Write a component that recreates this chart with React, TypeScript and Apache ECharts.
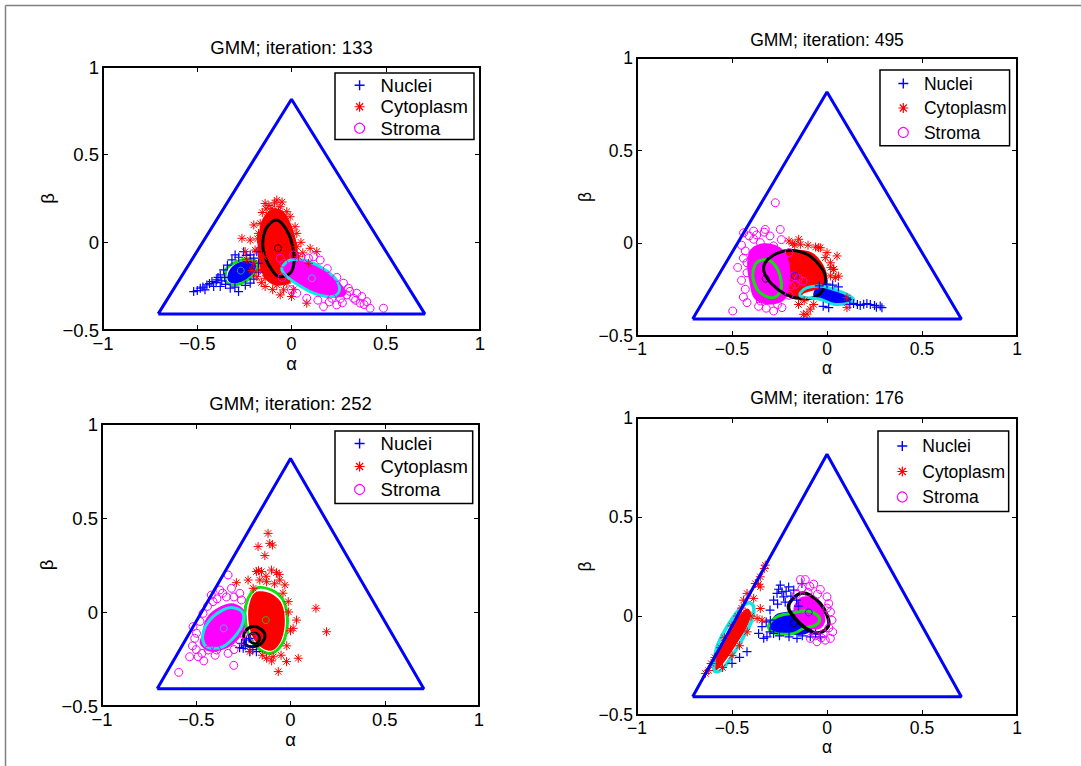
import React, { useEffect, useRef } from "react";
import * as echarts from "echarts";

type Pt = [number, number];

// ---------- shared data ----------
const TITLES = [
  "GMM; iteration: 133",
  "GMM; iteration: 495",
  "GMM; iteration: 252",
  "GMM; iteration: 176",
];
const CLASS_NAMES = ["Nuclei", "Cytoplasm", "Stroma"];
const X_MIN = -1, X_MAX = 1, X_STEP = 0.5;
const Y_MIN = -0.5, Y_MAX = 1, Y_STEP = 0.5;
const TRIANGLE: Pt[] = [[-0.7071, -0.4082], [0.7071, -0.4082], [0, 0.8165], [-0.7071, -0.4082]];

// ---------- panel 1 (iteration 133) ----------
const P1_NUCLEI: Pt[] = [[-0.519,-0.281],[-0.484,-0.262],[-0.449,-0.243],[-0.422,-0.224],[-0.396,-0.214],[-0.459,-0.271],[-0.378,-0.186],[-0.36,-0.157],[-0.316,-0.1],[-0.299,-0.072],[-0.254,-0.053],[-0.219,-0.072],[-0.184,-0.053],[-0.281,-0.281],[-0.325,-0.262],[-0.219,-0.233],[-0.413,-0.252],[-0.378,-0.252],[-0.5,-0.275],[-0.47,-0.255],[-0.435,-0.235],[-0.4,-0.23],[-0.37,-0.22],[-0.355,-0.2],[-0.34,-0.13],[-0.28,-0.085],[-0.24,-0.075],[-0.2,-0.09],[-0.175,-0.12],[-0.175,-0.17],[-0.2,-0.21],[-0.245,-0.245],[-0.3,-0.255],[-0.35,-0.24],[-0.39,-0.2]];
const P1_NUCLEI_CORE: Pt[] = [[-0.34,-0.2],[-0.33,-0.16],[-0.29,-0.12],[-0.24,-0.105],[-0.195,-0.115],[-0.19,-0.15],[-0.215,-0.19],[-0.26,-0.225],[-0.31,-0.235],[-0.335,-0.22]];
const P1_CYTOPLASM: Pt[] = [[-0.14,0.222],[-0.078,0.241],[-0.06,0.203],[-0.113,0.165],[-0.025,0.175],[-0.007,0.146],[-0.166,0.108],[-0.2,0.099],[-0.263,0.023],[-0.219,0.013],[0.019,0.089],[0.028,0.051],[-0.175,0.051],[0.099,-0.034],[0.134,-0.053],[0.09,-0.12],[0.081,-0.347],[-0.14,-0.252],[-0.06,-0.3],[0.0,-0.309],[-0.042,-0.271],[-0.184,-0.196],[-0.166,-0.157],[-0.237,-0.1],[-0.246,-0.053],[-0.193,-0.044],[-0.131,0.127],[-0.104,0.194],[-0.042,0.146],[0.028,-0.025],[0.037,-0.082],[-0.148,-0.082],[-0.14,-0.205],[-0.025,-0.233],[-0.078,-0.243],[-0.12,0.21],[-0.09,0.225],[-0.155,0.17],[-0.18,0.02],[-0.2,-0.12],[-0.21,-0.16],[0.05,0.0],[0.06,-0.06],[0.01,-0.27],[-0.1,-0.27],[-0.16,-0.23],[-0.05,0.23],[-0.135,0.19],[-0.07,0.18]];
const P1_CYTOPLASM_CORE: Pt[] = [[-0.15,0.14],[-0.1,0.19],[-0.05,0.18],[-0.01,0.12],[0.02,0.03],[0.035,-0.08],[0.02,-0.2],[-0.03,-0.24],[-0.1,-0.24],[-0.15,-0.19],[-0.175,-0.1],[-0.18,-0.01],[-0.17,0.07]];
const P1_STROMA: Pt[] = [[-0.06,-0.091],[0.011,-0.072],[0.117,-0.082],[0.152,-0.101],[0.028,-0.29],[0.17,-0.366],[0.24,-0.357],[0.293,-0.3],[0.329,-0.319],[0.364,-0.347],[0.399,-0.338],[0.417,-0.376],[0.488,-0.376],[0.302,-0.262],[0.276,-0.233],[0.346,-0.29],[0.373,-0.309],[0.214,-0.319],[0.081,-0.319],[0.05,-0.085],[0.09,-0.09],[0.19,-0.15],[0.24,-0.2],[0.31,-0.28],[0.26,-0.32],[0.2,-0.34],[0.14,-0.33],[0.34,-0.33],[0.0,-0.27],[-0.05,-0.2],[-0.04,-0.12],[0.385,-0.355],[0.27,-0.345]];
const P1_STROMA_CORE: Pt[] = [[-0.035,-0.13],[0.0,-0.105],[0.07,-0.105],[0.15,-0.14],[0.22,-0.19],[0.265,-0.24],[0.29,-0.29],[0.27,-0.31],[0.2,-0.315],[0.12,-0.295],[0.04,-0.25],[-0.02,-0.2],[-0.045,-0.16]];
const P1_GREEN_CONTOUR: Pt[] = [[-0.352,-0.195],[-0.343,-0.148],[-0.29,-0.11],[-0.237,-0.095],[-0.187,-0.11],[-0.18,-0.148],[-0.21,-0.195],[-0.263,-0.233],[-0.316,-0.243],[-0.348,-0.224]];
const P1_BLACK_CONTOUR: Pt[] = [[-0.081,0.127],[-0.051,0.108],[-0.016,0.051],[0.007,-0.025],[0.014,-0.11],[-0.007,-0.176],[-0.069,-0.195],[-0.104,-0.157],[-0.134,-0.1],[-0.152,-0.025],[-0.145,0.051],[-0.122,0.099]];
const P1_CYAN_CONTOUR: Pt[] = [[-0.042,-0.129],[-0.007,-0.101],[0.064,-0.101],[0.152,-0.139],[0.223,-0.195],[0.254,-0.252],[0.24,-0.3],[0.187,-0.309],[0.117,-0.29],[0.037,-0.243],[-0.025,-0.195],[-0.051,-0.157]];
const P1_MEANS: Pt[] = [[-0.269,-0.161],[-0.072,-0.034],[0.108,-0.205]];

// ---------- panel 2 (iteration 495) ----------
const P2_NUCLEI: Pt[] = [[0.14,-0.324],[0.16,-0.33],[0.193,-0.329],[0.21,-0.325],[0.228,-0.33],[0.25,-0.335],[0.28,-0.338],[0.289,-0.347],[0.009,-0.347],[0.0,-0.22],[0.03,-0.225],[0.06,-0.235],[-0.02,-0.34],[0.12,-0.33],[0.175,-0.335],[0.26,-0.345],[-0.04,-0.23]];
const P2_NUCLEI_CORE: Pt[] = [[-0.06,-0.245],[0.0,-0.235],[0.06,-0.25],[0.12,-0.28],[0.14,-0.305],[0.11,-0.325],[0.04,-0.33],[-0.03,-0.31],[-0.07,-0.29]];
const P2_CYTOPLASM: Pt[] = [[-0.2,0.013],[-0.149,0.022],[-0.14,-0.005],[-0.044,-0.023],[-0.009,-0.077],[0.035,-0.14],[0.044,-0.185],[0.053,-0.068],[0.018,-0.176],[0.105,-0.293],[-0.105,-0.382],[-0.088,-0.355],[-0.035,-0.024],[0.018,-0.105],[0.061,-0.177],[0.035,-0.141],[-0.123,-0.383],[0.105,-0.347],[-0.18,0.0],[-0.1,-0.01],[-0.06,-0.02],[0.0,-0.05],[0.02,-0.13],[-0.15,-0.33],[-0.12,-0.31],[-0.07,-0.33],[-0.17,-0.01]];
const P2_CYTOPLASM_CORE: Pt[] = [[-0.21,-0.04],[-0.15,-0.035],[-0.08,-0.05],[-0.03,-0.1],[0.0,-0.17],[-0.01,-0.23],[-0.06,-0.25],[-0.12,-0.27],[-0.15,-0.3],[-0.2,-0.29],[-0.22,-0.2],[-0.22,-0.1]];
const P2_STROMA: Pt[] = [[-0.272,0.219],[-0.496,-0.365],[-0.439,0.057],[-0.386,0.066],[-0.325,0.075],[-0.246,0.075],[-0.43,-0.041],[-0.351,0.004],[-0.281,-0.014],[-0.43,-0.248],[-0.421,-0.32],[-0.351,-0.311],[-0.281,-0.365],[-0.237,-0.347],[-0.175,-0.177],[-0.126,-0.204],[-0.167,-0.221],[-0.421,-0.159],[-0.421,-0.105],[-0.386,0.022],[-0.316,-0.05],[-0.41,0.04],[-0.37,0.045],[-0.3,0.04],[-0.45,-0.01],[-0.44,-0.08],[-0.45,-0.2],[-0.44,-0.29],[-0.32,-0.35],[-0.26,-0.33],[-0.2,-0.28],[-0.19,-0.23],[-0.2,-0.05],[-0.24,0.02],[-0.33,0.06],[-0.47,-0.13],[-0.36,-0.34],[-0.15,-0.19]];
const P2_STROMA_CORE: Pt[] = [[-0.4,-0.03],[-0.33,0.0],[-0.25,-0.02],[-0.205,-0.08],[-0.195,-0.2],[-0.22,-0.3],[-0.3,-0.33],[-0.38,-0.3],[-0.41,-0.2],[-0.42,-0.1]];
const P2_GREEN_CONTOUR: Pt[] = [[-0.377,-0.113],[-0.342,-0.09],[-0.298,-0.095],[-0.26,-0.14],[-0.24,-0.212],[-0.249,-0.266],[-0.281,-0.293],[-0.325,-0.284],[-0.368,-0.248],[-0.391,-0.176]];
const P2_BLACK_CONTOUR: Pt[] = [[-0.325,-0.104],[-0.263,-0.054],[-0.184,-0.038],[-0.105,-0.059],[-0.044,-0.113],[-0.009,-0.176],[-0.018,-0.248],[-0.07,-0.293],[-0.14,-0.298],[-0.219,-0.275],[-0.289,-0.221],[-0.33,-0.158]];
const P2_CYAN_CONTOUR: Pt[] = [[-0.14,-0.266],[-0.105,-0.239],[-0.035,-0.23],[0.035,-0.248],[0.105,-0.275],[0.14,-0.302],[0.114,-0.323],[0.035,-0.329],[-0.035,-0.302],[-0.105,-0.293],[-0.14,-0.284]];
const P2_MEANS: Pt[] = [[-0.323,-0.191],[-0.17,-0.176],[-0.009,-0.28]];

// ---------- panel 3 (iteration 252) ----------
const P3_NUCLEI: Pt[] = [[-0.26,-0.167],[-0.251,-0.193],[-0.216,-0.211],[-0.181,-0.211],[-0.234,-0.149],[-0.24,-0.18],[-0.2,-0.2],[-0.27,-0.19],[-0.22,-0.14]];
const P3_CYTOPLASM: Pt[] = [[-0.119,0.418],[-0.11,0.365],[-0.172,0.348],[-0.096,0.356],[-0.136,0.3],[-0.181,0.215],[-0.154,0.215],[-0.101,0.223],[-0.074,0.209],[-0.057,0.17],[-0.03,0.144],[-0.287,0.156],[-0.198,0.126],[-0.127,0.161],[-0.012,0.055],[0.032,-0.043],[0.014,-0.087],[0.135,0.02],[0.191,-0.105],[0.041,-0.246],[-0.021,-0.264],[-0.065,-0.317],[-0.127,-0.246],[-0.092,-0.238],[-0.216,-0.211],[-0.225,0.17],[-0.163,0.17],[-0.17,0.22],[-0.13,0.19],[-0.085,0.15],[-0.04,0.1],[-0.01,0.0],[0.0,-0.1],[-0.02,-0.18],[-0.05,-0.23],[-0.1,-0.26],[-0.15,-0.23],[-0.06,0.2]];
const P3_CYTOPLASM_CORE: Pt[] = [[-0.15,0.11],[-0.09,0.09],[-0.045,0.04],[-0.03,-0.05],[-0.045,-0.14],[-0.08,-0.195],[-0.12,-0.205],[-0.17,-0.175],[-0.21,-0.11],[-0.225,-0.01],[-0.21,0.07],[-0.185,0.105]];
const P3_STROMA: Pt[] = [[-0.331,0.197],[-0.42,0.09],[-0.375,0.117],[-0.313,0.126],[-0.269,0.099],[-0.26,0.064],[-0.517,-0.078],[-0.508,-0.14],[-0.535,-0.238],[-0.49,-0.238],[-0.593,-0.321],[-0.301,-0.284],[-0.331,-0.22],[-0.437,-0.202],[-0.392,-0.202],[-0.411,0.055],[-0.464,-0.007],[-0.499,-0.113],[-0.44,0.03],[-0.39,0.07],[-0.34,0.08],[-0.3,0.08],[-0.48,-0.05],[-0.52,-0.18],[-0.47,-0.22],[-0.3,-0.2],[-0.27,-0.15],[-0.25,-0.12],[-0.36,0.1],[-0.46,-0.26],[-0.5,-0.2],[-0.4,-0.23]];
const P3_STROMA_CORE: Pt[] = [[-0.47,-0.12],[-0.445,-0.03],[-0.37,0.03],[-0.3,0.045],[-0.24,0.0],[-0.24,-0.08],[-0.29,-0.16],[-0.355,-0.2],[-0.43,-0.21],[-0.48,-0.17]];
const P3_GREEN_CONTOUR: Pt[] = [[-0.154,0.131],[-0.083,0.108],[-0.035,0.055],[-0.016,-0.043],[-0.03,-0.14],[-0.074,-0.206],[-0.119,-0.22],[-0.181,-0.184],[-0.225,-0.113],[-0.242,-0.007],[-0.225,0.073],[-0.189,0.121]];
const P3_BLACK_CONTOUR: Pt[] = [[-0.242,-0.105],[-0.207,-0.078],[-0.163,-0.087],[-0.136,-0.122],[-0.154,-0.167],[-0.198,-0.184],[-0.234,-0.176],[-0.248,-0.14]];
const P3_BLACK_INNER: Pt[] = [[-0.216,-0.122],[-0.181,-0.113],[-0.163,-0.14],[-0.181,-0.167],[-0.212,-0.158]];
const P3_CYAN_CONTOUR: Pt[] = [[-0.464,-0.113],[-0.428,-0.043],[-0.358,0.011],[-0.304,0.023],[-0.251,-0.007],[-0.26,-0.078],[-0.304,-0.14],[-0.358,-0.184],[-0.411,-0.193],[-0.455,-0.176]];
const P3_MEANS: Pt[] = [[-0.131,-0.043],[-0.354,-0.087],[-0.198,-0.131]];

// ---------- panel 4 (iteration 176) ----------
const P4_NUCLEI: Pt[] = [[-0.281,0.08],[-0.246,0.156],[-0.237,0.122],[-0.202,0.147],[-0.175,0.131],[-0.263,0.114],[-0.228,0.097],[-0.342,-0.054],[-0.36,-0.088],[-0.333,-0.113],[-0.316,-0.105],[-0.281,-0.088],[-0.421,-0.18],[-0.46,-0.209],[-0.5,-0.239],[-0.132,0.164],[-0.298,-0.021],[-0.158,-0.113],[-0.088,-0.105],[-0.035,-0.105],[-0.3,0.03],[-0.26,0.06],[-0.22,0.07],[-0.19,0.1],[-0.16,0.08],[-0.32,-0.03],[-0.3,-0.08],[-0.25,-0.1],[-0.2,-0.105],[-0.13,-0.1],[-0.06,-0.09],[-0.15,0.05],[-0.215,0.125],[-0.255,0.135]];
const P4_NUCLEI_CORE: Pt[] = [[-0.307,-0.054],[-0.272,0.005],[-0.211,0.021],[-0.14,0.03],[-0.088,0.013],[-0.07,-0.054],[-0.105,-0.088],[-0.175,-0.096],[-0.246,-0.088],[-0.298,-0.08]];
const P4_CYTOPLASM: Pt[] = [[-0.64,-0.29],[-0.623,-0.275],[-0.325,0.257],[-0.351,0.198],[-0.377,0.164],[-0.351,0.147],[-0.386,0.089],[-0.351,0.038],[-0.368,-0.012],[-0.342,-0.021],[-0.439,0.08],[-0.421,0.114],[-0.61,-0.24],[-0.59,-0.21],[-0.56,-0.16],[-0.54,-0.11],[-0.5,-0.05],[-0.47,0.0],[-0.45,0.04],[-0.4,0.0],[-0.42,-0.08],[-0.46,-0.15],[-0.5,-0.2],[-0.55,-0.26],[-0.36,0.16],[-0.33,0.24]];
const P4_CYTOPLASM_CORE: Pt[] = [[-0.605,-0.264],[-0.579,-0.189],[-0.526,-0.088],[-0.474,-0.012],[-0.421,0.038],[-0.4,0.013],[-0.421,-0.054],[-0.474,-0.138],[-0.526,-0.214],[-0.579,-0.273]];
const P4_STROMA: Pt[] = [[-0.14,0.184],[-0.114,0.184],[-0.07,0.161],[-0.035,0.134],[0,0.097],[0.009,0.063],[0.018,0.021],[0.026,-0.021],[0.018,-0.113],[-0.009,-0.122],[-0.053,-0.13],[-0.088,-0.113],[-0.132,0.139],[-0.09,0.15],[-0.05,0.11],[0.0,0.04],[0.01,-0.06],[-0.02,-0.09],[-0.06,-0.1],[-0.1,0.12],[-0.16,0.11],[-0.03,-0.11],[0.03,-0.08]];
const P4_STROMA_CORE: Pt[] = [[-0.175,0.047],[-0.132,0.097],[-0.07,0.089],[-0.026,0.038],[-0.009,-0.021],[-0.035,-0.063],[-0.088,-0.063],[-0.14,-0.029],[-0.167,0.005]];
const P4_GREEN_CONTOUR: Pt[] = [[-0.307,-0.046],[-0.263,-0.004],[-0.193,0.013],[-0.105,0.026],[-0.053,0.005],[-0.039,-0.021],[-0.061,-0.046],[-0.123,-0.063],[-0.175,-0.088],[-0.246,-0.091],[-0.298,-0.075]];
const P4_BLACK_CONTOUR: Pt[] = [[-0.193,0.072],[-0.14,0.114],[-0.088,0.105],[-0.035,0.063],[0,0.005],[0.009,-0.046],[-0.026,-0.08],[-0.07,-0.083],[-0.123,-0.054],[-0.175,-0.004],[-0.202,0.038]];
const P4_CYAN_CONTOUR: Pt[] = [[-0.596,-0.256],[-0.579,-0.155],[-0.526,-0.054],[-0.465,0.03],[-0.412,0.067],[-0.386,0.047],[-0.395,-0.021],[-0.439,-0.105],[-0.491,-0.189],[-0.553,-0.27],[-0.588,-0.281]];
const P4_MEANS: Pt[] = [[-0.175,-0.037],[-0.096,0.018]];

// ---------- styling ----------
const FONT = "'Liberation Sans', Arial, Helvetica, sans-serif";
const BLUE = "#0000ff", RED = "#ff0000", MAGENTA = "#ff00ff", GREEN = "#10e010", CYAN = "#10e6e6", BLACK = "#000000";
const PLUS = "path://M0,5L10,5M5,0L5,10";
const PLUS_FILLED = "path://M4.3,0H5.7V4.3H10V5.7H5.7V10H4.3V5.7H0V4.3H4.3Z";
const STAR = "path://M0,5L10,5M5,0L5,10M1.5,1.5L8.5,8.5M1.5,8.5L8.5,1.5";

const PANELS = [
  {
    title: TITLES[0], rect: { left: 103, top: 67, width: 377, height: 263 }, titleY: 47, fs: 18.5,
    legend: { left: 335, top: 73, gap: 2.5, pad: [2.75, 6, 1.75, 19], textGap: 11 },
    alphaGap: 21, betaGap: 46,
    nuclei: P1_NUCLEI, nucleiCore: P1_NUCLEI_CORE, cyto: P1_CYTOPLASM, cytoCore: P1_CYTOPLASM_CORE,
    stroma: P1_STROMA, stromaCore: P1_STROMA_CORE,
    contours: [[P1_GREEN_CONTOUR, GREEN, 3], [P1_BLACK_CONTOUR, BLACK, 3], [P1_CYAN_CONTOUR, CYAN, 3]],
    means: P1_MEANS, meanColors: [GREEN, BLACK, CYAN],
  },
  {
    title: TITLES[1], rect: { left: 637, top: 58, width: 380, height: 278 }, titleY: 40, fs: 17.5,
    legend: { left: 880, top: 70, gap: 6.5, pad: [4.5, 3, 4.25, 17.7], textGap: 10.6 },
    alphaGap: 19, betaGap: 43,
    nuclei: P2_NUCLEI, nucleiCore: P2_NUCLEI_CORE, cyto: P2_CYTOPLASM, cytoCore: P2_CYTOPLASM_CORE,
    stroma: P2_STROMA, stromaCore: P2_STROMA_CORE,
    contours: [[P2_GREEN_CONTOUR, GREEN, 3], [P2_BLACK_CONTOUR, BLACK, 3], [P2_CYAN_CONTOUR, CYAN, 3]],
    means: P2_MEANS, meanColors: [BLACK, BLUE, BLUE],
  },
  {
    title: TITLES[2], rect: { left: 102, top: 424, width: 377, height: 282 }, titleY: 403, fs: 18.5,
    legend: { left: 335, top: 431, gap: 4, pad: [3, 4.7, 4.5, 19], textGap: 11 },
    alphaGap: 23, betaGap: 46,
    nuclei: P3_NUCLEI, nucleiCore: null, cyto: P3_CYTOPLASM, cytoCore: P3_CYTOPLASM_CORE,
    stroma: P3_STROMA, stromaCore: P3_STROMA_CORE,
    contours: [[P3_GREEN_CONTOUR, GREEN, 3], [P3_BLACK_CONTOUR, BLACK, 3], [P3_BLACK_INNER, BLACK, 2.5], [P3_CYAN_CONTOUR, CYAN, 3]],
    means: P3_MEANS, meanColors: [GREEN, CYAN, MAGENTA],
  },
  {
    title: TITLES[3], rect: { left: 637, top: 418, width: 380, height: 297 }, titleY: 398, fs: 17.5,
    legend: { left: 878, top: 431, gap: 7.5, pad: [6, 3.7, 5.5, 18.7], textGap: 10 },
    alphaGap: 21, betaGap: 43,
    nuclei: P4_NUCLEI, nucleiCore: P4_NUCLEI_CORE, cyto: P4_CYTOPLASM, cytoCore: P4_CYTOPLASM_CORE,
    stroma: P4_STROMA, stromaCore: P4_STROMA_CORE,
    contours: [[P4_CYAN_CONTOUR, CYAN, 3.5], [P4_GREEN_CONTOUR, GREEN, 3], [P4_BLACK_CONTOUR, BLACK, 3.5]],
    means: P4_MEANS, meanColors: [BLACK, BLUE],
  },
];

const minus = (v: number) => String(v).replace("-", "\u2212");

function polygonSeries(pts: Pt[], gi: number, fill: string, stroke: string | null, lw: number) {
  return {
    type: "custom",
    xAxisIndex: gi * 2,
    yAxisIndex: gi * 2,
    silent: true,
    clip: false,
    encode: { x: 0, y: 1 },
    data: [[pts[0][0], pts[0][1]]],
    renderItem: (_params: any, api: any) => {
      const points = pts.map((p) => api.coord(p));
      return {
        type: "polygon",
        shape: { points, smooth: 0.35 },
        style: { fill, stroke: stroke || "none", lineWidth: lw },
      };
    },
  };
}

function scatterSeries(name: string, pts: Pt[], gi: number, kind: "plus" | "star" | "circle") {
  const color = kind === "plus" ? BLUE : kind === "star" ? RED : MAGENTA;
  return {
    type: "scatter",
    name,
    xAxisIndex: gi * 2,
    yAxisIndex: gi * 2,
    silent: true,
    symbol: kind === "plus" ? PLUS : kind === "star" ? STAR : "circle",
    symbolSize: kind === "circle" ? 8 : 9,
    itemStyle: {
      color: kind === "circle" ? "rgba(0,0,0,0)" : color,
      borderColor: color,
      borderWidth: kind === "plus" ? 1.2 : 1,
      opacity: 1,
    },
    data: pts,
  };
}

function buildOption() {
  const grid: any[] = [];
  const xAxis: any[] = [];
  const yAxis: any[] = [];
  const series: any[] = [];
  const legend: any[] = [];
  const graphic: any[] = [
    { type: "line", shape: { x1: 5.5, y1: 5.5, x2: 1081, y2: 5.5 }, style: { stroke: "#808080", lineWidth: 1.5 }, silent: true },
    { type: "line", shape: { x1: 5.5, y1: 5.5, x2: 5.5, y2: 766 }, style: { stroke: "#808080", lineWidth: 1.5 }, silent: true },
  ];

  PANELS.forEach((p, gi) => {
    grid.push({ ...p.rect, containLabel: false });
    const axisLine = { show: true, onZero: false, lineStyle: { color: BLACK, width: 2 } };
    const tick = { show: true, inside: true, length: 5, lineStyle: { color: BLACK, width: 1 } };
    const label = { color: BLACK, fontSize: p.fs, fontFamily: FONT, margin: 4, formatter: minus };
    xAxis.push({
      type: "value", gridIndex: gi, min: X_MIN, max: X_MAX, interval: X_STEP, position: "bottom",
      axisLine, axisTick: tick, axisLabel: label, splitLine: { show: false },
      name: "α", nameLocation: "middle", nameGap: p.alphaGap,
      nameTextStyle: { color: BLACK, fontSize: p.fs, fontFamily: FONT },
    });
    xAxis.push({
      type: "value", gridIndex: gi, min: X_MIN, max: X_MAX, interval: X_STEP, position: "top",
      axisLine, axisTick: tick, axisLabel: { show: false }, splitLine: { show: false },
    });
    yAxis.push({
      type: "value", gridIndex: gi, min: Y_MIN, max: Y_MAX, interval: Y_STEP, position: "left",
      axisLine, axisTick: tick, axisLabel: label, splitLine: { show: false },
      name: "β", nameLocation: "middle", nameGap: p.betaGap, nameRotate: 90,
      nameTextStyle: { color: BLACK, fontSize: p.fs, fontFamily: FONT },
    });
    yAxis.push({
      type: "value", gridIndex: gi, min: Y_MIN, max: Y_MAX, interval: Y_STEP, position: "right",
      axisLine, axisTick: tick, axisLabel: { show: false }, splitLine: { show: false },
    });

    // triangle
    series.push({
      type: "line", xAxisIndex: gi * 2, yAxisIndex: gi * 2, data: TRIANGLE, symbol: "none", silent: true,
      lineStyle: { color: BLUE, width: 3 },
    });
    // nuclei
    if (p.nucleiCore) series.push(polygonSeries(p.nucleiCore, gi, BLUE, null, 0));
    series.push(scatterSeries(CLASS_NAMES[0], p.nuclei, gi, "plus"));
    // cytoplasm
    series.push(polygonSeries(p.cytoCore, gi, RED, null, 0));
    series.push(scatterSeries(CLASS_NAMES[1], p.cyto, gi, "star"));
    // stroma
    series.push(polygonSeries(p.stromaCore, gi, MAGENTA, null, 0));
    series.push(scatterSeries(CLASS_NAMES[2], p.stroma, gi, "circle"));
    // contours
    p.contours.forEach((c: any) => series.push(polygonSeries(c[0], gi, "none", c[1], c[2])));
    // component means
    series.push({
      type: "scatter", name: "means", xAxisIndex: gi * 2, yAxisIndex: gi * 2, silent: true,
      symbol: "circle", symbolSize: 7,
      data: p.means.map((m, i) => ({ value: m, itemStyle: { color: "rgba(0,0,0,0)", borderColor: p.meanColors[i], borderWidth: 1 } })),
    });

    legend.push({
      orient: "vertical", left: p.legend.left, top: p.legend.top,
      itemWidth: 10, itemHeight: 10, itemGap: p.legend.gap,
      padding: p.legend.pad, borderColor: BLACK, borderWidth: 1.5, backgroundColor: "#ffffff",
      selectedMode: false, z: 20,
      textStyle: { color: BLACK, fontSize: p.fs, fontFamily: FONT, lineHeight: p.fs, padding: [0, 0, 0, p.legend.textGap] },
      data: [
        { name: CLASS_NAMES[0], icon: PLUS_FILLED, itemStyle: { color: BLUE, borderColor: BLUE, borderWidth: 0 } },
        { name: CLASS_NAMES[1], icon: STAR, itemStyle: { color: RED, borderColor: RED, borderWidth: 1.2 } },
        { name: CLASS_NAMES[2], icon: "circle", itemStyle: { color: "rgba(0,0,0,0)", borderColor: MAGENTA, borderWidth: 1.2 } },
      ],
    });

    graphic.push({
      type: "text", x: p.rect.left + p.rect.width / 2, y: p.titleY, silent: true,
      style: { text: p.title, fill: BLACK, font: `${p.fs}px ${FONT}`, textAlign: "center", textVerticalAlign: "middle" },
    });
  });

  return { animation: false, backgroundColor: "#ffffff", grid, xAxis, yAxis, series, legend, graphic };
}

export default function App() {
  const ref = useRef<HTMLDivElement>(null);
  useEffect(() => {
    document.body.style.margin = "0";
    const chart = echarts.init(ref.current!, null, { renderer: "svg" });
    chart.setOption(buildOption() as any);
    return () => chart.dispose();
  }, []);
  return <div ref={ref} style={{ width: 1081, height: 766 }} />;
}
